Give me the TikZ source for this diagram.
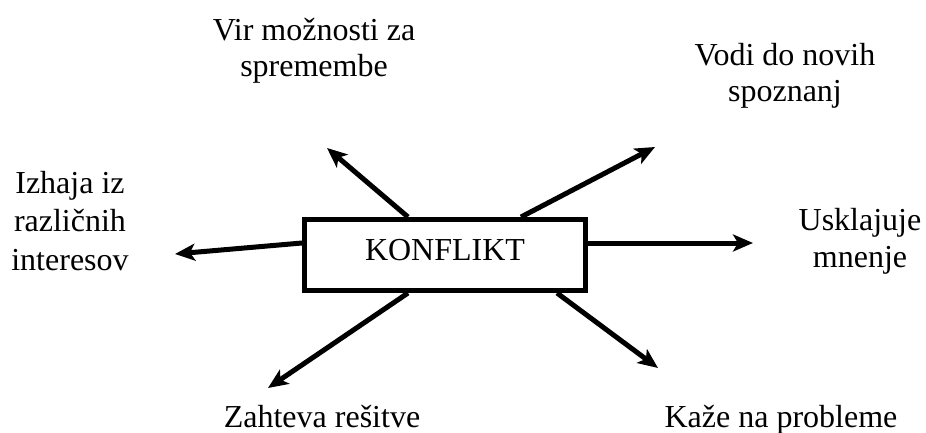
\documentclass[tikz,border=0pt]{standalone}
\usepackage{fontspec}
\setmainfont{Liberation Serif}
\usetikzlibrary{arrows.meta}
\tikzset{
    lbl/.style={font=\fontsize{32}{36}\selectfont, align=center, inner sep=0pt, anchor=base},
    arr/.style={line width=5pt, -{Stealth[length=20pt,width=17pt,inset=5pt]}}
}
\begin{document}
\begin{tikzpicture}[x=1pt,y=-1pt]
    \useasboundingbox (0,0) rectangle (926,433);

    \node[draw, line width=5pt, minimum width=281pt, minimum height=71pt,
          inner sep=0pt, text height=21pt, text depth=10.5pt,
          font=\fontsize{32}{36}\selectfont] (konflikt) at (445,255) {KONFLIKT};

    \node[lbl] (vir)    at (314,77)  {Vir možnosti za\\spremembe};
    \node[lbl] (vodi)   at (785,102) {Vodi do novih\\spoznanj};
    \node[lbl, font=\fontsize{32}{38.5}\selectfont] (izhaja) at (70,270) {Izhaja iz\\različnih\\interesov};
    \node[lbl, font=\fontsize{32}{37}\selectfont] (uskl) at (860,267) {Usklajuje\\mnenje};
    \node[lbl] (zahteva) at (322,427) {Zahteva rešitve};
    \node[lbl] (kaze)    at (781,427) {Kaže na probleme};

    \coordinate (virtip)     at (327,148);
    \coordinate (voditip)    at (655,147);
    \coordinate (izhajatip)  at (175,254);
    \coordinate (uskltip)    at (753,243);
    \coordinate (zahtevatip) at (268,388);
    \coordinate (kazetip)    at (658,368);

    \draw[arr] ([xshift=106pt]konflikt.north west) -- (virtip);
    \draw[arr] ([xshift=219pt]konflikt.north west) -- (voditip);
    \draw[arr] ([yshift=12pt]konflikt.west) -- (izhajatip);
    \draw[arr] ([yshift=12pt]konflikt.east) -- (uskltip);
    \draw[arr] ([xshift=106pt]konflikt.south west) -- (zahtevatip);
    \draw[arr] ([xshift=255pt]konflikt.south west) -- (kazetip);
\end{tikzpicture}
\end{document}
